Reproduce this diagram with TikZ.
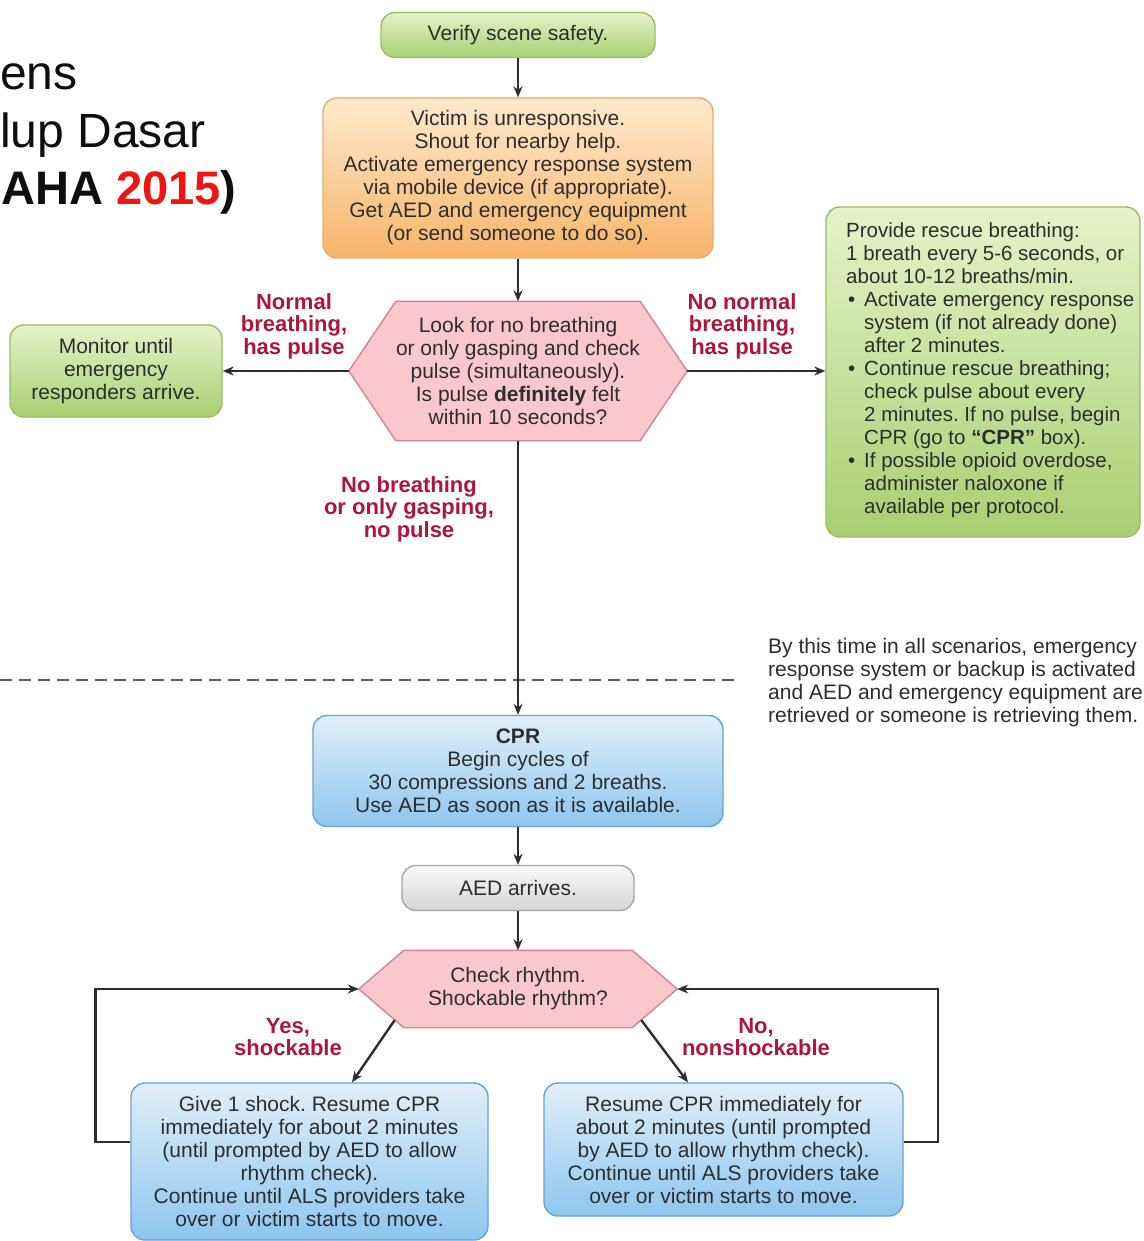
\documentclass[tikz,border=0pt]{standalone}
\usepackage{fontspec}
\setmainfont{Liberation Sans}
\usetikzlibrary{arrows.meta,calc,backgrounds}
\definecolor{txt}{RGB}{45,45,45}
\definecolor{lbl}{RGB}{172,22,62}
\definecolor{grnT}{RGB}{230,242,202}
\definecolor{grnB}{RGB}{168,208,114}
\definecolor{grnD}{RGB}{150,190,100}
\definecolor{orT}{RGB}{254,234,206}
\definecolor{orB}{RGB}{248,180,106}
\definecolor{orD}{RGB}{232,172,112}
\definecolor{pkF}{RGB}{248,200,206}
\definecolor{pkD}{RGB}{214,130,144}
\definecolor{blT}{RGB}{224,239,250}
\definecolor{blB}{RGB}{142,198,238}
\definecolor{blD}{RGB}{102,162,212}
\definecolor{gyT}{RGB}{248,248,248}
\definecolor{gyB}{RGB}{214,214,214}
\definecolor{gyD}{RGB}{165,165,165}
\definecolor{lnC}{RGB}{45,45,45}
\definecolor{dashC}{RGB}{90,90,90}
\definecolor{title}{RGB}{15,15,15}
\definecolor{titlered}{RGB}{240,20,20}
\newcommand\rbul{\hspace*{2pt}\makebox[16pt][l]{\textbullet}}
\newcommand\rind{\hspace*{18pt}}
\frenchspacing
\begin{document}
\begin{tikzpicture}[x=1pt,y=-1pt,
  every node/.style={text=txt, font=\fontsize{21}{23}\selectfont},
  box/.style={rounded corners=14pt, line width=1.4pt, align=center, inner sep=0pt},
  greenbox/.style={box, draw=grnD, top color=grnT, bottom color=grnB},
  orangebox/.style={box, draw=orD, top color=orT, bottom color=orB},
  bluebox/.style={box, draw=blD, top color=blT, bottom color=blB},
  graybox/.style={box, draw=gyD, top color=gyT, bottom color=gyB},
  hexnode/.style={align=center, inner sep=0pt},
  hexshape/.style={fill=pkF, draw=pkD, line width=1.4pt, line join=miter},
  arr/.style={draw=lnC, line width=2.4pt, -{Stealth[length=11pt,width=9pt]}},
  lab/.style={text=lbl, font=\fontsize{22}{22.5}\selectfont\bfseries, align=center},
  titletext/.style={text=title, font=\fontsize{48}{50}\selectfont, inner sep=0pt},
  note/.style={align=left, inner sep=0pt},
]
\begin{pgfonlayer}{background}
\fill[white] (0,0) rectangle (1143,1241);
\end{pgfonlayer}
\useasboundingbox (0,0) rectangle (1143,1241);

% title fragments
\node[titletext, anchor=base west] (t1) at (0,90) {ens};
\node[titletext, anchor=base west] (t2) at (0,148) {lup Dasar};
\node[titletext, anchor=base west, font=\fontsize{47}{50}\selectfont\bfseries] (t3) at (1,205) {AHA \textcolor{titlered}{2015})};

% nodes
\node[greenbox, minimum width=274pt, minimum height=45pt] (verify) at (518,35) {Verify scene safety.};
\node[orangebox, minimum width=390pt, minimum height=160pt] (victim) at (518,178)
  {Victim is unresponsive.\\Shout for nearby help.\\Activate emergency response system\\via mobile device (if appropriate).\\Get AED and emergency equipment\\(or send someone to do so).};
\node[hexnode, minimum width=338pt, minimum height=139pt] (look) at (518,371)
  {Look for no breathing\\or only gasping and check\\pulse (simultaneously).\\Is pulse \textbf{definitely} felt\\within 10 seconds?};
\node[greenbox, minimum width=212pt, minimum height=92pt] (monitor) at (116,371)
  {Monitor until\\emergency\\responders arrive.};
\node[box, draw=grnD, top color=grnT, bottom color=grnB, minimum width=314pt, minimum height=330pt] (rescue) at (983,372) {};
\node[note, anchor=north west, font=\fontsize{20.5}{23}\selectfont] (rescuetext) at (846,222)
  {Provide rescue breathing:\\
   1 breath every 5-6 seconds, or\\
   about 10-12 breaths/min.\\
   \rbul Activate emergency response\\
   \rind system (if not already done)\\
   \rind after 2 minutes.\\
   \rbul Continue rescue breathing;\\
   \rind check pulse about every\\
   \rind 2 minutes. If no pulse, begin\\
   \rind CPR (go to \textbf{“CPR”} box).\\
   \rbul If possible opioid overdose,\\
   \rind administer naloxone if\\
   \rind available per protocol.};

\node[note, anchor=north west] (bythis) at (768,638)
  {By this time in all scenarios, emergency\\
   response system or backup is activated\\
   and AED and emergency equipment are\\
   retrieved or someone is retrieving them.};

\node[bluebox, minimum width=410pt, minimum height=111pt] (cpr) at (518,771)
  {\textbf{CPR}\\Begin cycles of\\30 compressions and 2 breaths.\\Use AED as soon as it is available.};
\node[graybox, minimum width=232pt, minimum height=45pt] (aed) at (518,888) {AED arrives.};
\node[hexnode, minimum width=318pt, minimum height=77pt] (check) at (518,989)
  {Check rhythm.\\Shockable rhythm?};
\node[bluebox, minimum width=357pt, minimum height=157pt] (shock) at (309.5,1161.5)
  {Give 1 shock. Resume CPR\\immediately for about 2 minutes\\(until prompted by AED to allow\\rhythm check).\\Continue until ALS providers take\\over or victim starts to move.};
\node[bluebox, minimum width=359pt, minimum height=133pt] (resume) at (723.5,1149.5)
  {Resume CPR immediately for\\about 2 minutes (until prompted\\by AED to allow rhythm check).\\Continue until ALS providers take\\over or victim starts to move.};

% hexagon outlines behind their texts
\begin{pgfonlayer}{background}
\path[hexshape] (look.west) -- ([xshift=47pt]look.north west) -- ([xshift=-47pt]look.north east)
  -- (look.east) -- ([xshift=-47pt]look.south east) -- ([xshift=47pt]look.south west) -- cycle;
\path[hexshape] (check.west) -- ([xshift=45pt]check.north west) -- ([xshift=-45pt]check.north east)
  -- (check.east) -- ([xshift=-45pt]check.south east) -- ([xshift=45pt]check.south west) -- cycle;
\end{pgfonlayer}

% labels
\node[lab] (l1) at (294,326) {Normal\\breathing,\\has pulse};
\node[lab] (l2) at (742,326) {No normal\\breathing,\\has pulse};
\node[lab] (l3) at (409,509) {No breathing\\or only gasping,\\no pulse};
\node[lab] (l4) at (288,1037) {Yes,\\shockable};
\node[lab] (l5) at (756,1037) {No,\\nonshockable};

% dashed separator
\coordinate (dl) at (0,680);
\coordinate (dr) at (740,680);
\draw[draw=dashC, line width=2.4pt, dash pattern=on 12pt off 7pt] (dl) -- (dr);

% connectors
\draw[arr] (verify) -- (victim);
\draw[arr] (victim) -- (look);
\draw[arr] (look.west) -- (monitor.east);
\draw[arr] (look.east) -- (look.east -| rescue.west);
\draw[arr] (look.south) -- (cpr.north);
\draw[arr] (cpr) -- (aed);
\draw[arr] (aed) -- (check);
\draw[arr] ($(check.west)!0.8!([xshift=45pt]check.south west)$) -- ([xshift=42.5pt]shock.north);
\draw[arr] ($(check.east)!0.8!([xshift=-45pt]check.south east)$) -- ([xshift=-35.5pt]resume.north);
\draw[arr] ([yshift=19.5pt]shock.west) -- ++(-35,0) |- (check.west);
\draw[arr] ([yshift=7.5pt]resume.east) -- ++(34,0) |- (check.east);
\end{tikzpicture}
\end{document}
